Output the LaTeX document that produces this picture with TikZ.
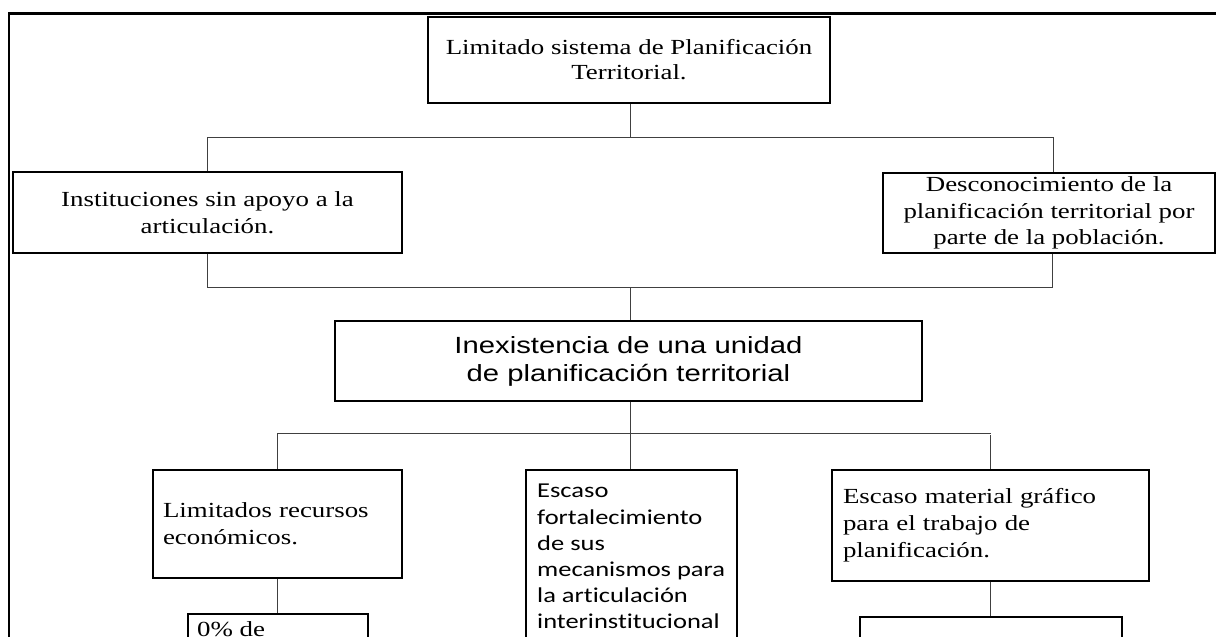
\documentclass[tikz,border=0pt]{standalone}
\usepackage{fontspec}
\newfontfamily\tnrfont[FakeStretch=1.25]{Liberation Serif}
\newfontfamily\arlfont[FakeStretch=1.25]{Liberation Sans}
\newfontfamily\calfont[FakeStretch=1.25,Ligatures=NoCommon]{Carlito}
\begin{document}
\begin{tikzpicture}[x=1pt,y=-1pt,
  box/.style={draw=black, line width=1.3pt, rectangle, inner sep=0pt},
  conn/.style={draw=black!75, line width=1pt},
  serifA/.style={font=\tnrfont\fontsize{21.5}{25}\selectfont},
  serifB/.style={font=\tnrfont\fontsize{21.5}{27}\selectfont},
  sansC/.style={font=\arlfont\fontsize{23.4}{28}\selectfont},
  calD/.style={font=\calfont\fontsize{21.2}{26.2}\selectfont}
]
\useasboundingbox (0,0) rectangle (1216,637);
\clip (0,0) rectangle (1216,637);
\draw[line width=2.2pt] (9,13.5) rectangle (1240,700);

% level 1
\node[box, serifA, minimum width=402pt, minimum height=86pt, align=center] (top) at (629,60)
  {Limitado sistema de Planificación\\Territorial.};
% level 2
\node[box, serifB, minimum width=389pt, minimum height=81pt, align=center] (inst) at (207.5,212.5)
  {Instituciones sin apoyo a la\\articulación.};
\node[box, font=\tnrfont\fontsize{21.5}{26.5}\selectfont, minimum width=332pt, minimum height=80pt, align=center] (desc) at (1049,213)
  {Desconocimiento de la\\planificación territorial por\\parte de la población.};
% level 3
\node[box, sansC, minimum width=587pt, minimum height=80pt, align=center] (cen) at (628.5,361)
  {Inexistencia de una unidad\\de planificación territorial};
% level 4
\node[box, serifB, minimum width=249pt, minimum height=108pt, text width=229pt, inner xsep=10pt, align=left] (lim) at (277.5,524)
  {Limitados recursos\\económicos.};
\node[box, minimum width=211pt, minimum height=190pt] (esc) at (631.5,565) {};
\node[calD, anchor=north west, inner sep=0pt, align=left] (esct) at (537,484)
  {Escaso\\fortalecimiento\\de sus\\mecanismos para\\la articulación\\interinstitucional};
\node[box, serifB, minimum width=317pt, minimum height=111pt, text width=295pt, inner xsep=11pt, align=left] (mat) at (990.5,525.5)
  {Escaso material gráfico\\para el trabajo de\\planificación.};
% level 5
\node[box, minimum width=180pt, minimum height=60pt] (zero) at (278,644) {};
\node[serifB, anchor=north west, inner sep=0pt] (zerot) at (197,621) {0\% de};
\node[box, minimum width=262pt, minimum height=60pt] (bot) at (991,647) {};

% connectors
\coordinate (h1) at (630,137);
\coordinate (h2) at (630,287.5);
\coordinate (h3) at (630,433);
\draw[conn] (top.south -| h1) -- (h1);
\draw[conn] (inst.north) -- (inst.north |- h1) -- ([xshift=4pt]desc.north |- h1) -- ([xshift=4pt]desc.north);
\draw[conn] (inst.south) -- (inst.south |- h2) -- ([xshift=3pt]desc.south |- h2) -- ([xshift=3pt]desc.south);
\draw[conn] (h2) -- (cen.north -| h2);
\draw[conn] (cen.south -| h3) -- (h3);
\draw[conn] (lim.north) -- (lim.north |- h3) -- (mat.north |- h3);
\draw[conn] ([yshift=-2pt]mat.north |- h3) -- (mat.north);
\draw[conn] (h3) -- (esc.north -| h3);
\draw[conn] (lim.south) -- (lim.south |- zero.north);
\draw[conn] (mat.south) -- (mat.south |- bot.north);
\end{tikzpicture}
\end{document}
